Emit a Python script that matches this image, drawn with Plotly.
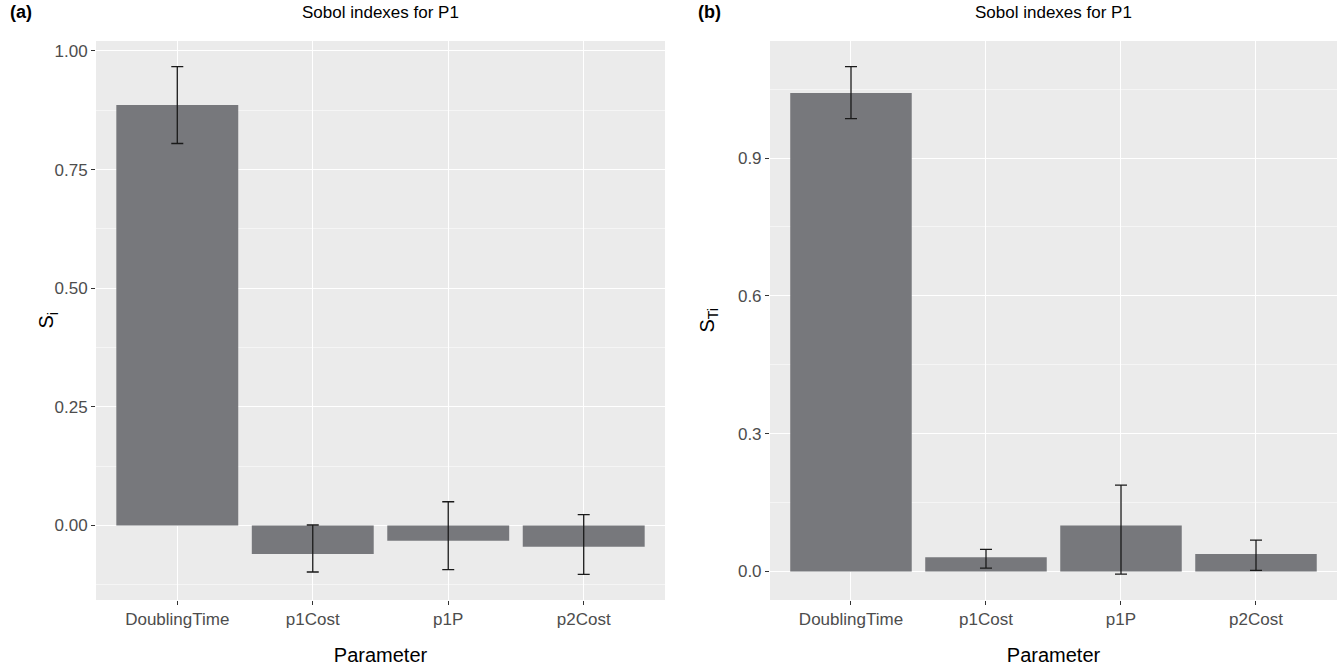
import plotly.graph_objects as go

params = ["DoublingTime", "p1Cost", "p1P", "p2Cost"]

# Panel (a): first-order Sobol indexes
si_value = [0.886, -0.060, -0.032, -0.045]
si_low = [0.805, -0.098, -0.093, -0.103]
si_high = [0.967, 0.001, 0.050, 0.023]

# Panel (b): total Sobol indexes
sti_value = [1.042, 0.031, 0.100, 0.038]
sti_low = [0.986, 0.007, -0.006, 0.002]
sti_high = [1.099, 0.048, 0.188, 0.068]

a_ticks = [0.0, 0.25, 0.5, 0.75, 1.0]
a_ticktext = ["0.00", "0.25", "0.50", "0.75", "1.00"]
b_ticks = [0.0, 0.3, 0.6, 0.9]
b_ticktext = ["0.0", "0.3", "0.6", "0.9"]

BAR = "#77787c"
PANEL = "#ebebeb"
FONT = "Liberation Sans, Arial, sans-serif"

fig = go.Figure()


def add_panel(vals, lo, hi, xa, ya):
    fig.add_trace(go.Bar(
        x=params, y=vals, xaxis=xa, yaxis=ya,
        marker=dict(color=BAR, line=dict(width=0)),
        width=0.9,
        error_y=dict(type="data", symmetric=False,
                     array=[h - v for h, v in zip(hi, vals)],
                     arrayminus=[v - l for v, l in zip(vals, lo)],
                     color="#1a1a1a", thickness=1.3, width=6),
        showlegend=False,
    ))


add_panel(si_value, si_low, si_high, "x", "y")
add_panel(sti_value, sti_low, sti_high, "x2", "y2")

xcommon = dict(
    type="category", range=[-0.6, 3.6], showgrid=True, gridcolor="white", gridwidth=1.3,
    ticks="outside", ticklen=4, tickcolor="#333333", tickwidth=1,
    tickfont=dict(family=FONT, size=17, color="#4d4d4d"),
    showline=False, zeroline=False,
    title=dict(text="Parameter", font=dict(family=FONT, size=20, color="#000000"), standoff=19),
)
ycommon = dict(
    showgrid=True, gridcolor="white", gridwidth=1.3,
    ticks="outside", ticklen=4, tickcolor="#333333", tickwidth=1,
    tickfont=dict(family=FONT, size=17, color="#4d4d4d"),
    showline=False, zeroline=False,
)

fig.update_layout(
    width=1341, height=667,
    margin=dict(l=96, r=4, t=41, b=67),
    paper_bgcolor="white", plot_bgcolor=PANEL,
    bargap=0.1,
    xaxis=dict(domain=[0.0, 0.4585], anchor="y", **xcommon),
    xaxis2=dict(domain=[0.5431, 1.0], anchor="y2", **xcommon),
    yaxis=dict(domain=[0, 1], anchor="x", range=[-0.157, 1.021],
               tickvals=a_ticks, ticktext=a_ticktext,
               minor=dict(tickvals=[-0.125, 0.125, 0.375, 0.625, 0.875], showgrid=True,
                          gridcolor="#f5f5f5", gridwidth=0.8, ticks=""),
               **ycommon),
    yaxis2=dict(domain=[0, 1], anchor="x2", range=[-0.0623, 1.155],
                tickvals=b_ticks, ticktext=b_ticktext,
                minor=dict(tickvals=[0.15, 0.45, 0.75, 1.05], showgrid=True,
                           gridcolor="#f5f5f5", gridwidth=0.8, ticks=""),
                **ycommon),
    annotations=[
        dict(text="Sobol indexes for P1", xref="x domain", yref="paper", x=0.5, y=1, yshift=17,
             yanchor="bottom", showarrow=False, font=dict(family=FONT, size=17, color="#000000")),
        dict(text="Sobol indexes for P1", xref="x2 domain", yref="paper", x=0.5, y=1, yshift=17,
             yanchor="bottom", showarrow=False, font=dict(family=FONT, size=17, color="#000000")),
        dict(text="<b>(a)</b>", xref="paper", yref="paper", x=-0.0709, y=1, yshift=17,
             xanchor="left", yanchor="bottom", showarrow=False,
             font=dict(family=FONT, size=18, color="#000000")),
        dict(text="<b>(b)</b>", xref="paper", yref="paper", x=0.4835, y=1, yshift=17,
             xanchor="left", yanchor="bottom", showarrow=False,
             font=dict(family=FONT, size=18, color="#000000")),
        dict(text="S<sub>i</sub>", xref="paper", yref="paper", x=-0.0387, y=0.5,
             textangle=-90, xanchor="center", yanchor="middle", showarrow=False,
             font=dict(family=FONT, size=20, color="#000000")),
        dict(text="S<sub>Ti</sub>", xref="paper", yref="paper", x=0.4932, y=0.5,
             textangle=-90, xanchor="center", yanchor="middle", showarrow=False,
             font=dict(family=FONT, size=20, color="#000000")),
    ],
)

fig.write_html("out.html", config={"displayModeBar": False},
               post_script="document.body.style.margin='0';")
